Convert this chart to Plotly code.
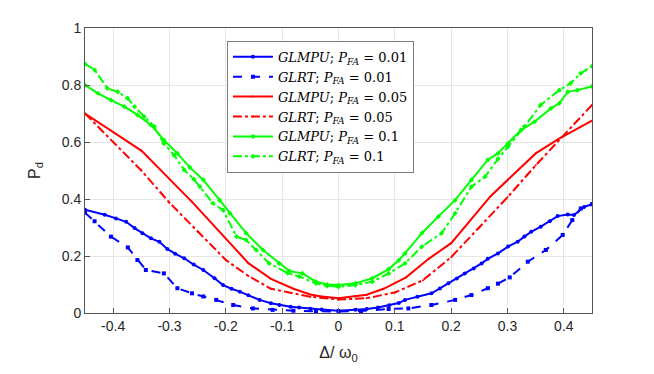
import plotly.graph_objects as go

# GLMPU, P_FA = 0.01
x_glmpu_01 = [-0.45, -0.415, -0.395, -0.377, -0.362, -0.348, -0.333, -0.318, -0.304, -0.29,
              -0.274, -0.257, -0.24, -0.22, -0.205, -0.19, -0.175, -0.16, -0.14, -0.12,
              -0.105, -0.085, -0.07, -0.05, -0.03, 0, 0.03, 0.05, 0.07, 0.09,
              0.107, 0.118, 0.14, 0.165, 0.18, 0.195, 0.21, 0.224, 0.24, 0.254,
              0.265, 0.283, 0.301, 0.318, 0.33, 0.342, 0.359, 0.375, 0.389, 0.407,
              0.418, 0.436, 0.45]
y_glmpu_01 = [0.362, 0.345, 0.332, 0.320, 0.298, 0.280, 0.262, 0.250, 0.225, 0.208,
              0.192, 0.170, 0.151, 0.122, 0.098, 0.085, 0.075, 0.062, 0.046, 0.034,
              0.028, 0.022, 0.019, 0.015, 0.012, 0.008, 0.011, 0.014, 0.019, 0.027,
              0.035, 0.046, 0.057, 0.069, 0.086, 0.104, 0.121, 0.139, 0.156, 0.174,
              0.190, 0.209, 0.233, 0.250, 0.268, 0.285, 0.303, 0.322, 0.340, 0.346,
              0.344, 0.372, 0.382]

# GLRT, P_FA = 0.01
x_glrt_01 = [-0.45, -0.433, -0.404, -0.374, -0.357, -0.342, -0.31, -0.286, -0.26, -0.24,
             -0.217, -0.187, -0.152, -0.117, -0.08, -0.04, 0, 0.04, 0.089, 0.124,
             0.165, 0.207, 0.236, 0.265, 0.283, 0.304, 0.336, 0.368, 0.398, 0.415,
             0.43, 0.45]
y_glrt_01 = [0.352, 0.322, 0.268, 0.230, 0.186, 0.151, 0.139, 0.087, 0.069, 0.058,
             0.046, 0.028, 0.016, 0.011, 0.008, 0.006, 0.005, 0.007, 0.014, 0.016,
             0.028, 0.046, 0.063, 0.087, 0.103, 0.125, 0.180, 0.221, 0.274, 0.326,
             0.367, 0.382]

# GLMPU, P_FA = 0.05
x_glmpu_05 = [-0.45, -0.35, -0.26, -0.16, -0.12, -0.08, -0.05, -0.03, 0, 0.03,
              0.05, 0.08, 0.1, 0.12, 0.16, 0.2, 0.27, 0.35, 0.39, 0.45]
y_glmpu_05 = [0.70, 0.57, 0.39, 0.175, 0.12, 0.085, 0.065, 0.058, 0.052, 0.058,
              0.064, 0.085, 0.105, 0.125, 0.19, 0.245, 0.41, 0.56, 0.61, 0.675]

# GLRT, P_FA = 0.05
x_glrt_05 = [-0.45, -0.4, -0.35, -0.3, -0.25, -0.2, -0.16, -0.12, -0.09, -0.05,
             0, 0.05, 0.1, 0.15, 0.2, 0.25, 0.3, 0.35, 0.4, 0.45]
y_glrt_05 = [0.70, 0.60, 0.50, 0.387, 0.285, 0.186, 0.13, 0.085, 0.073, 0.057,
             0.047, 0.052, 0.072, 0.115, 0.196, 0.30, 0.406, 0.518, 0.623, 0.73]

# GLMPU, P_FA = 0.1
x_glmpu_1 = [-0.45, -0.427, -0.404, -0.38, -0.357, -0.333, -0.31, -0.286, -0.264, -0.24,
             -0.211, -0.193, -0.164, -0.134, -0.105, -0.087, -0.064, -0.04, -0.02, 0,
             0.03, 0.06, 0.089, 0.107, 0.118, 0.148, 0.177, 0.207, 0.236, 0.265,
             0.283, 0.301, 0.324, 0.348, 0.377, 0.392, 0.407, 0.424, 0.45]
y_glmpu_1 = [0.800, 0.771, 0.747, 0.724, 0.695, 0.660, 0.607, 0.560, 0.511, 0.467,
             0.396, 0.350, 0.280, 0.221, 0.174, 0.147, 0.139, 0.110, 0.100, 0.098,
             0.104, 0.122, 0.154, 0.185, 0.209, 0.280, 0.338, 0.396, 0.467, 0.537,
             0.560, 0.595, 0.642, 0.671, 0.718, 0.736, 0.776, 0.782, 0.795]

# GLRT, P_FA = 0.1
x_glrt_1 = [-0.45, -0.433, -0.41, -0.392, -0.374, -0.362, -0.345, -0.327, -0.31, -0.292,
            -0.274, -0.257, -0.246, -0.223, -0.205, -0.181, -0.164, -0.146, -0.123, -0.09,
            -0.07, -0.04, -0.02, 0, 0.03, 0.06, 0.089, 0.118, 0.148, 0.183,
            0.207, 0.236, 0.26, 0.283, 0.301, 0.33, 0.359, 0.392, 0.412, 0.43, 0.45]
y_glrt_1 = [0.874, 0.853, 0.788, 0.776, 0.753, 0.724, 0.689, 0.654, 0.595, 0.554,
            0.502, 0.470, 0.443, 0.385, 0.361, 0.268, 0.256, 0.221, 0.174, 0.140,
            0.128, 0.104, 0.095, 0.092, 0.098, 0.110, 0.139, 0.174, 0.233, 0.280,
            0.350, 0.443, 0.478, 0.540, 0.584, 0.654, 0.730, 0.782, 0.806, 0.841, 0.866]

x_ticks = [-0.4, -0.3, -0.2, -0.1, 0, 0.1, 0.2, 0.3, 0.4]
x_labels = ['-0.4', '-0.3', '-0.2', '-0.1', '0', '0.1', '0.2', '0.3', '0.4']
y_ticks = [0, 0.2, 0.4, 0.6, 0.8, 1]
y_labels = ['0', '0.2', '0.4', '0.6', '0.8', '1']

BLUE = '#0000ff'
RED = '#ff0000'
GREEN = '#00ff00'

series = [
    (x_glmpu_01, y_glmpu_01, BLUE, 'solid', 'circle', 4, '0.01', 'GLMPU'),
    (x_glrt_01, y_glrt_01, BLUE, 'dash', 'square', 4, '0.01', 'GLRT'),
    (x_glmpu_05, y_glmpu_05, RED, 'solid', 'circle', 2, '0.05', 'GLMPU'),
    (x_glrt_05, y_glrt_05, RED, 'dashdot', 'circle', 2, '0.05', 'GLRT'),
    (x_glmpu_1, y_glmpu_1, GREEN, 'solid', 'diamond', 4, '0.1', 'GLMPU'),
    (x_glrt_1, y_glrt_1, GREEN, 'dashdot', 'diamond', 4, '0.1', 'GLRT'),
]

fig = go.Figure()
for xs, ys, col, dash, sym, msize, pfa, name in series:
    fig.add_trace(go.Scatter(
        x=xs, y=ys, mode='lines+markers',
        line=dict(color=col, width=2, dash=dash),
        marker=dict(color=col, size=msize, symbol=sym),
        name=f'<i>{name}</i>; <i>P</i><sub><i>FA</i></sub> = {pfa}'
    ))

axis_common = dict(
    showline=True, linecolor='#555555', linewidth=1, mirror=True,
    ticks='inside', ticklen=5, tickcolor='#555555',
    showgrid=True, gridcolor='#e6e6e6', gridwidth=1,
    zeroline=False,
    tickfont=dict(family='Liberation Sans, Arial', size=14, color='#262626'),
)

# the page has an 8px body margin, so margins are shifted to compensate
fig.update_layout(
    width=654, height=374,
    margin=dict(l=77, r=70, t=20, b=69),
    paper_bgcolor='white', plot_bgcolor='white',
    xaxis=dict(range=[-0.45, 0.45], tickvals=x_ticks, ticktext=x_labels,
               title=dict(text='Δ/ ω<sub>0</sub>', standoff=14,
                          font=dict(family='Liberation Sans, Arial', size=16, color='#262626')),
               **axis_common),
    yaxis=dict(range=[0, 1], tickvals=y_ticks, ticktext=y_labels,
               title=dict(text='P<sub>d</sub>', standoff=17,
                          font=dict(family='Liberation Sans, Arial', size=16, color='#262626')),
               **axis_common),
    legend=dict(
        x=0.28, y=0.955, xanchor='left', yanchor='top',
        bgcolor='white', bordercolor='#7f7f7f', borderwidth=1,
        font=dict(family='DejaVu Serif', size=13, color='black'),
        tracegroupgap=0, itemwidth=40,
    ),
    showlegend=True,
)

fig.write_html('out.html')
